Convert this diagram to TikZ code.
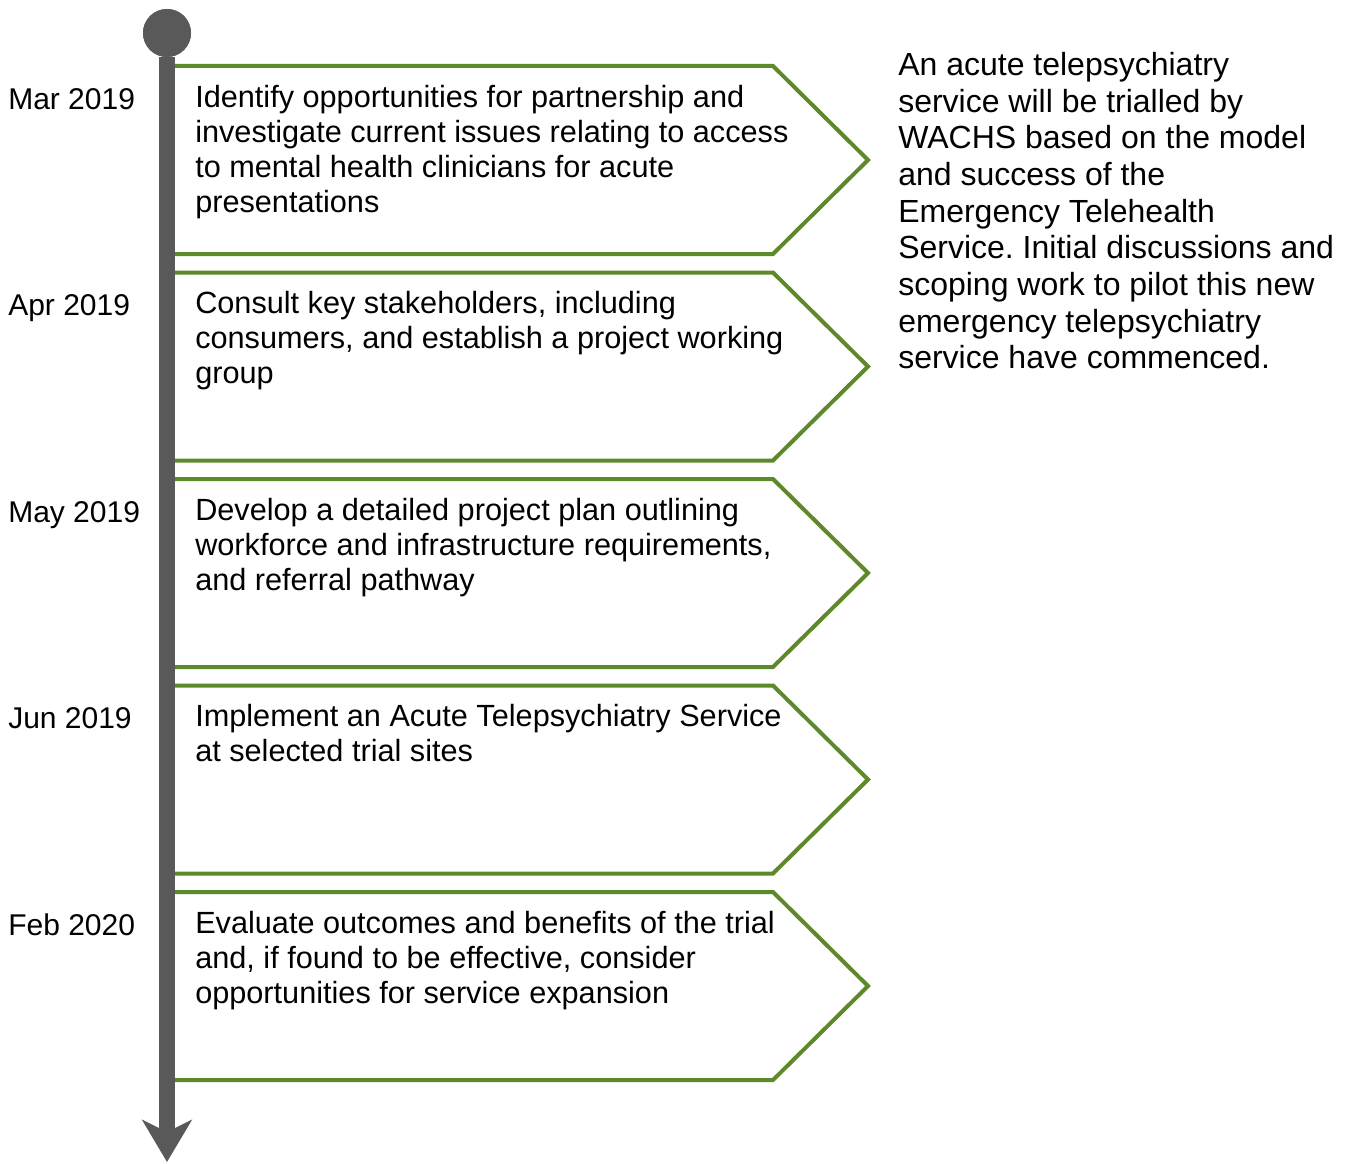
\documentclass[tikz,border=0pt]{standalone}
\usepackage{fontspec}
\setmainfont{Liberation Sans}
\usetikzlibrary{arrows.meta}
\definecolor{linegray}{RGB}{89,89,89}
\definecolor{chevgreen}{RGB}{94,137,42}
\frenchspacing
\def\dy{206.5}
\tikzset{every node/.style={inner sep=0pt,anchor=base west,font=\fontsize{22.5pt}{26.25pt}\selectfont},
    chev/.style={draw=chevgreen,line width=3pt,line join=miter},
    dot/.style={circle,fill=linegray,minimum size=36pt,anchor=center},
    timeline/.style={draw=linegray,line width=12pt,-{Stealth[length=31.5pt,width=37pt,inset=9pt]}},
    task/.style={align=left,anchor=north west,font=\fontsize{23pt}{26.25pt}\selectfont}}

\begin{document}
\begin{tikzpicture}[x=0.75pt,y=-0.75pt]
    \useasboundingbox (0,0) rectangle (1352,1163);
    \foreach \i/\d/\t in {1/Mar 2019/{Identify opportunities for partnership and\\investigate current issues relating to access\\to mental health clinicians for acute\\presentations},
        2/Apr 2019/{Consult key stakeholders, including\\consumers, and establish a project working\\group},
        3/May 2019/{Develop a detailed project plan outlining\\workforce and infrastructure requirements,\\and referral pathway},
        4/Jun 2019/{Implement an Acute Telepsychiatry Service\\at selected trial sites},
        5/Feb 2020/{Evaluate outcomes and benefits of the trial\\and, if found to be effective, consider\\opportunities for service expansion}} {
      \pgfmathsetmacro\yt{66+(\i-1)*\dy}
      \draw[chev] (167,\yt) -- (773,\yt) -- ++(95,94) -- ++(-95,94) -- ++(-606,0);
      \node (date\i) at (8,\yt+43) {\d};
      \node[task] (task\i) at (195,\yt+19) {\t};
    }
    \node[dot] (start) at (167,33) {};
    \coordinate (end) at (167,1162);
    \draw[timeline] (start) -- (end);
    \node[dot] at (start) {};
    \node[align=left,anchor=north west,font=\fontsize{24pt}{27.5pt}\selectfont] (note) at (898,52)
      {An acute telepsychiatry\\service will be trialled by\\WACHS based on the model\\and success of the\\Emergency Telehealth\\Service. Initial discussions and\\scoping work to pilot this new\\emergency telepsychiatry\\service have commenced.};
  \end{tikzpicture}
\end{document}
